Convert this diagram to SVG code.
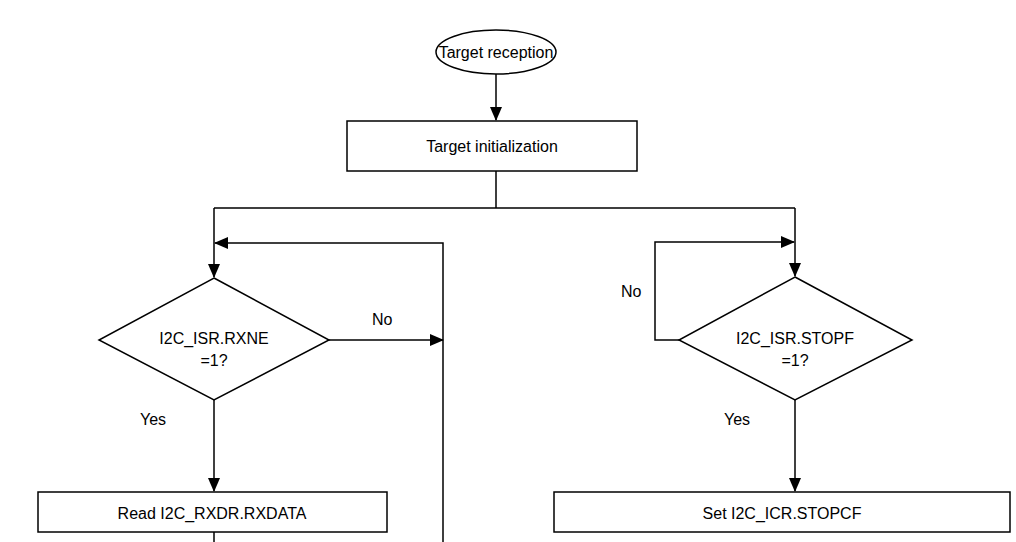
<svg xmlns="http://www.w3.org/2000/svg" width="1016" height="542" viewBox="0 0 1016 542">
<style>
.s{fill:#fff;stroke:#000;stroke-width:1.5}
.l{fill:none;stroke:#000;stroke-width:1.5}
text{font-family:"Liberation Sans",Arial,sans-serif;font-size:16px;fill:#000}
</style>
<defs><marker id="a" markerWidth="14" markerHeight="12" refX="13" refY="6" orient="auto" markerUnits="userSpaceOnUse"><path d="M0,0L14,6L0,12z" fill="#000"/></marker></defs>
<rect width="1016" height="542" fill="#fff"/>
<g id="connectors">
<path class="l" d="M496,73V120" marker-end="url(#a)"/>
<path class="l" d="M496,171V208M214,208H795"/>
<path class="l" d="M214,208V277" marker-end="url(#a)"/>
<path class="l" d="M795,208V276" marker-end="url(#a)"/>
<path class="l" d="M329,340H443" marker-end="url(#a)"/>
<path class="l" d="M443,542V243H215" marker-end="url(#a)"/>
<path class="l" d="M214,400V491" marker-end="url(#a)"/>
<path class="l" d="M214,532V542"/>
<path class="l" d="M679,340H655V242H794" marker-end="url(#a)"/>
<path class="l" d="M795,400V491" marker-end="url(#a)"/>
<text x="372" y="325">No</text>
<text x="140" y="425">Yes</text>
<text x="621" y="297">No</text>
<text x="724" y="425">Yes</text>
</g>
<g id="start"><ellipse class="s" cx="496" cy="52" rx="60" ry="22"/><text x="496" y="58" text-anchor="middle">Target reception</text></g>
<g id="init"><rect class="s" x="347" y="121" width="290" height="50"/><text x="492" y="152" text-anchor="middle">Target initialization</text></g>
<g id="rxne"><path class="s" d="M214,278L329,340L214,400L99,340z"/><text x="214" y="344" text-anchor="middle">I2C_ISR.RXNE</text><text x="214" y="366" text-anchor="middle">=1?</text></g>
<g id="read"><rect class="s" x="38" y="492" width="349" height="40"/><text x="212" y="519" text-anchor="middle">Read I2C_RXDR.RXDATA</text></g>
<g id="stopf"><path class="s" d="M795,277L912,340L795,400L679,340z"/><text x="795" y="344" text-anchor="middle">I2C_ISR.STOPF</text><text x="795" y="366" text-anchor="middle">=1?</text></g>
<g id="set"><rect class="s" x="554" y="492" width="456" height="40"/><text x="782" y="519" text-anchor="middle">Set I2C_ICR.STOPCF</text></g>
</svg>
